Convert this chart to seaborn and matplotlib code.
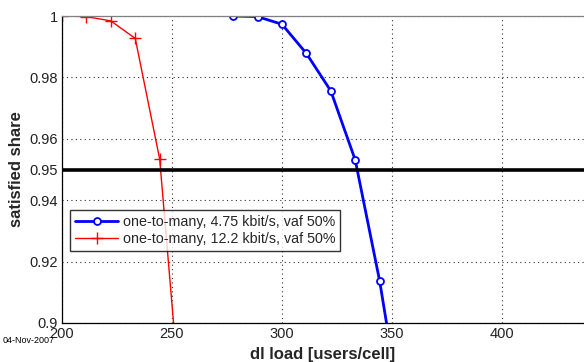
import matplotlib
matplotlib.use("Agg")
import matplotlib.pyplot as plt
import numpy as np
import pandas as pd
import seaborn as sns

# dl load [users/cell] and satisfied share per configuration
load_475 = [277.8, 288.9, 300.0, 311.1, 322.2, 333.3, 344.4, 355.6]
share_475 = [1.0, 0.9998, 0.9973, 0.9878, 0.9756, 0.9531, 0.9137, 0.8645]
load_122 = [200.0, 211.1, 222.2, 233.3, 244.4, 255.6]
share_122 = [1.0, 0.9998, 0.9984, 0.9927, 0.9534, 0.8587]

label_475 = "one-to-many, 4.75 kbit/s, vaf 50%"
label_122 = "one-to-many, 12.2 kbit/s, vaf 50%"
target_share = 0.95

x_ticks = [200, 250, 300, 350, 400]
y_ticks = [0.9, 0.92, 0.94, 0.95, 0.96, 0.98, 1.0]
y_tick_labels = ["0.9", "0.92", "0.94", "0.95", "0.96", "0.98", "1"]

df_475 = pd.DataFrame({"load": load_475, "share": share_475})
df_122 = pd.DataFrame({"load": load_122, "share": share_122})

sns.set_style("white")
plt.rcParams["font.family"] = ["Liberation Sans", "DejaVu Sans"]

fig = plt.figure(figsize=(5.84, 3.62), dpi=100)
ax = fig.add_axes([62 / 584, 1 - 323 / 362, 1 - 62 / 584, (323 - 16) / 362])

sns.lineplot(data=df_475, x="load", y="share", ax=ax, color="#0000ff",
             linewidth=2.0, marker="o", markersize=5, markerfacecolor="white",
             markeredgecolor="#0000ff", markeredgewidth=1.3, label=label_475,
             sort=False)
sns.lineplot(data=df_122, x="load", y="share", ax=ax, color="#ff0000",
             linewidth=1.0, marker="+", markersize=8, markeredgewidth=1.0,
             markeredgecolor="#ff0000", markerfacecolor="#ff0000",
             label=label_122, sort=False)

ax.axhline(target_share, color="black", linewidth=2.6, zorder=5)

ax.set_xlim(200, 437.3)
ax.set_ylim(0.9, 1.0)
ax.set_xticks(x_ticks)
ax.set_xticklabels([str(t) for t in x_ticks])
ax.set_yticks(y_ticks)
ax.set_yticklabels(y_tick_labels)

ax.grid(True, linestyle=(0, (1, 3)), color="#333333", linewidth=0.8)
ax.tick_params(direction="in", length=4, labelsize=10.5, colors="black",
               labelcolor="#222222", pad=3)

for side in ["left", "bottom"]:
    ax.spines[side].set_color("black")
    ax.spines[side].set_linewidth(0.9)
ax.spines["top"].set_color("#808080")
ax.spines["top"].set_linewidth(0.9)
ax.spines["right"].set_visible(False)

ax.set_xlabel("dl load [users/cell]", fontsize=12, fontweight="bold", labelpad=4)
ax.set_ylabel("satisfied share", fontsize=12, fontweight="bold", labelpad=4)

leg = ax.legend(loc="lower left", bbox_to_anchor=(0.016, 0.233), fontsize=10.3,
                frameon=True, fancybox=False, edgecolor="black",
                borderpad=0.35, labelspacing=0.25, handlelength=3.0,
                handletextpad=0.3, borderaxespad=0)
leg.get_frame().set_linewidth(1.0)

fig.text(3 / 584, 1 - 343 / 362, "04-Nov-2007", fontsize=6.5, color="black")

fig.savefig("out.png", dpi=100)
